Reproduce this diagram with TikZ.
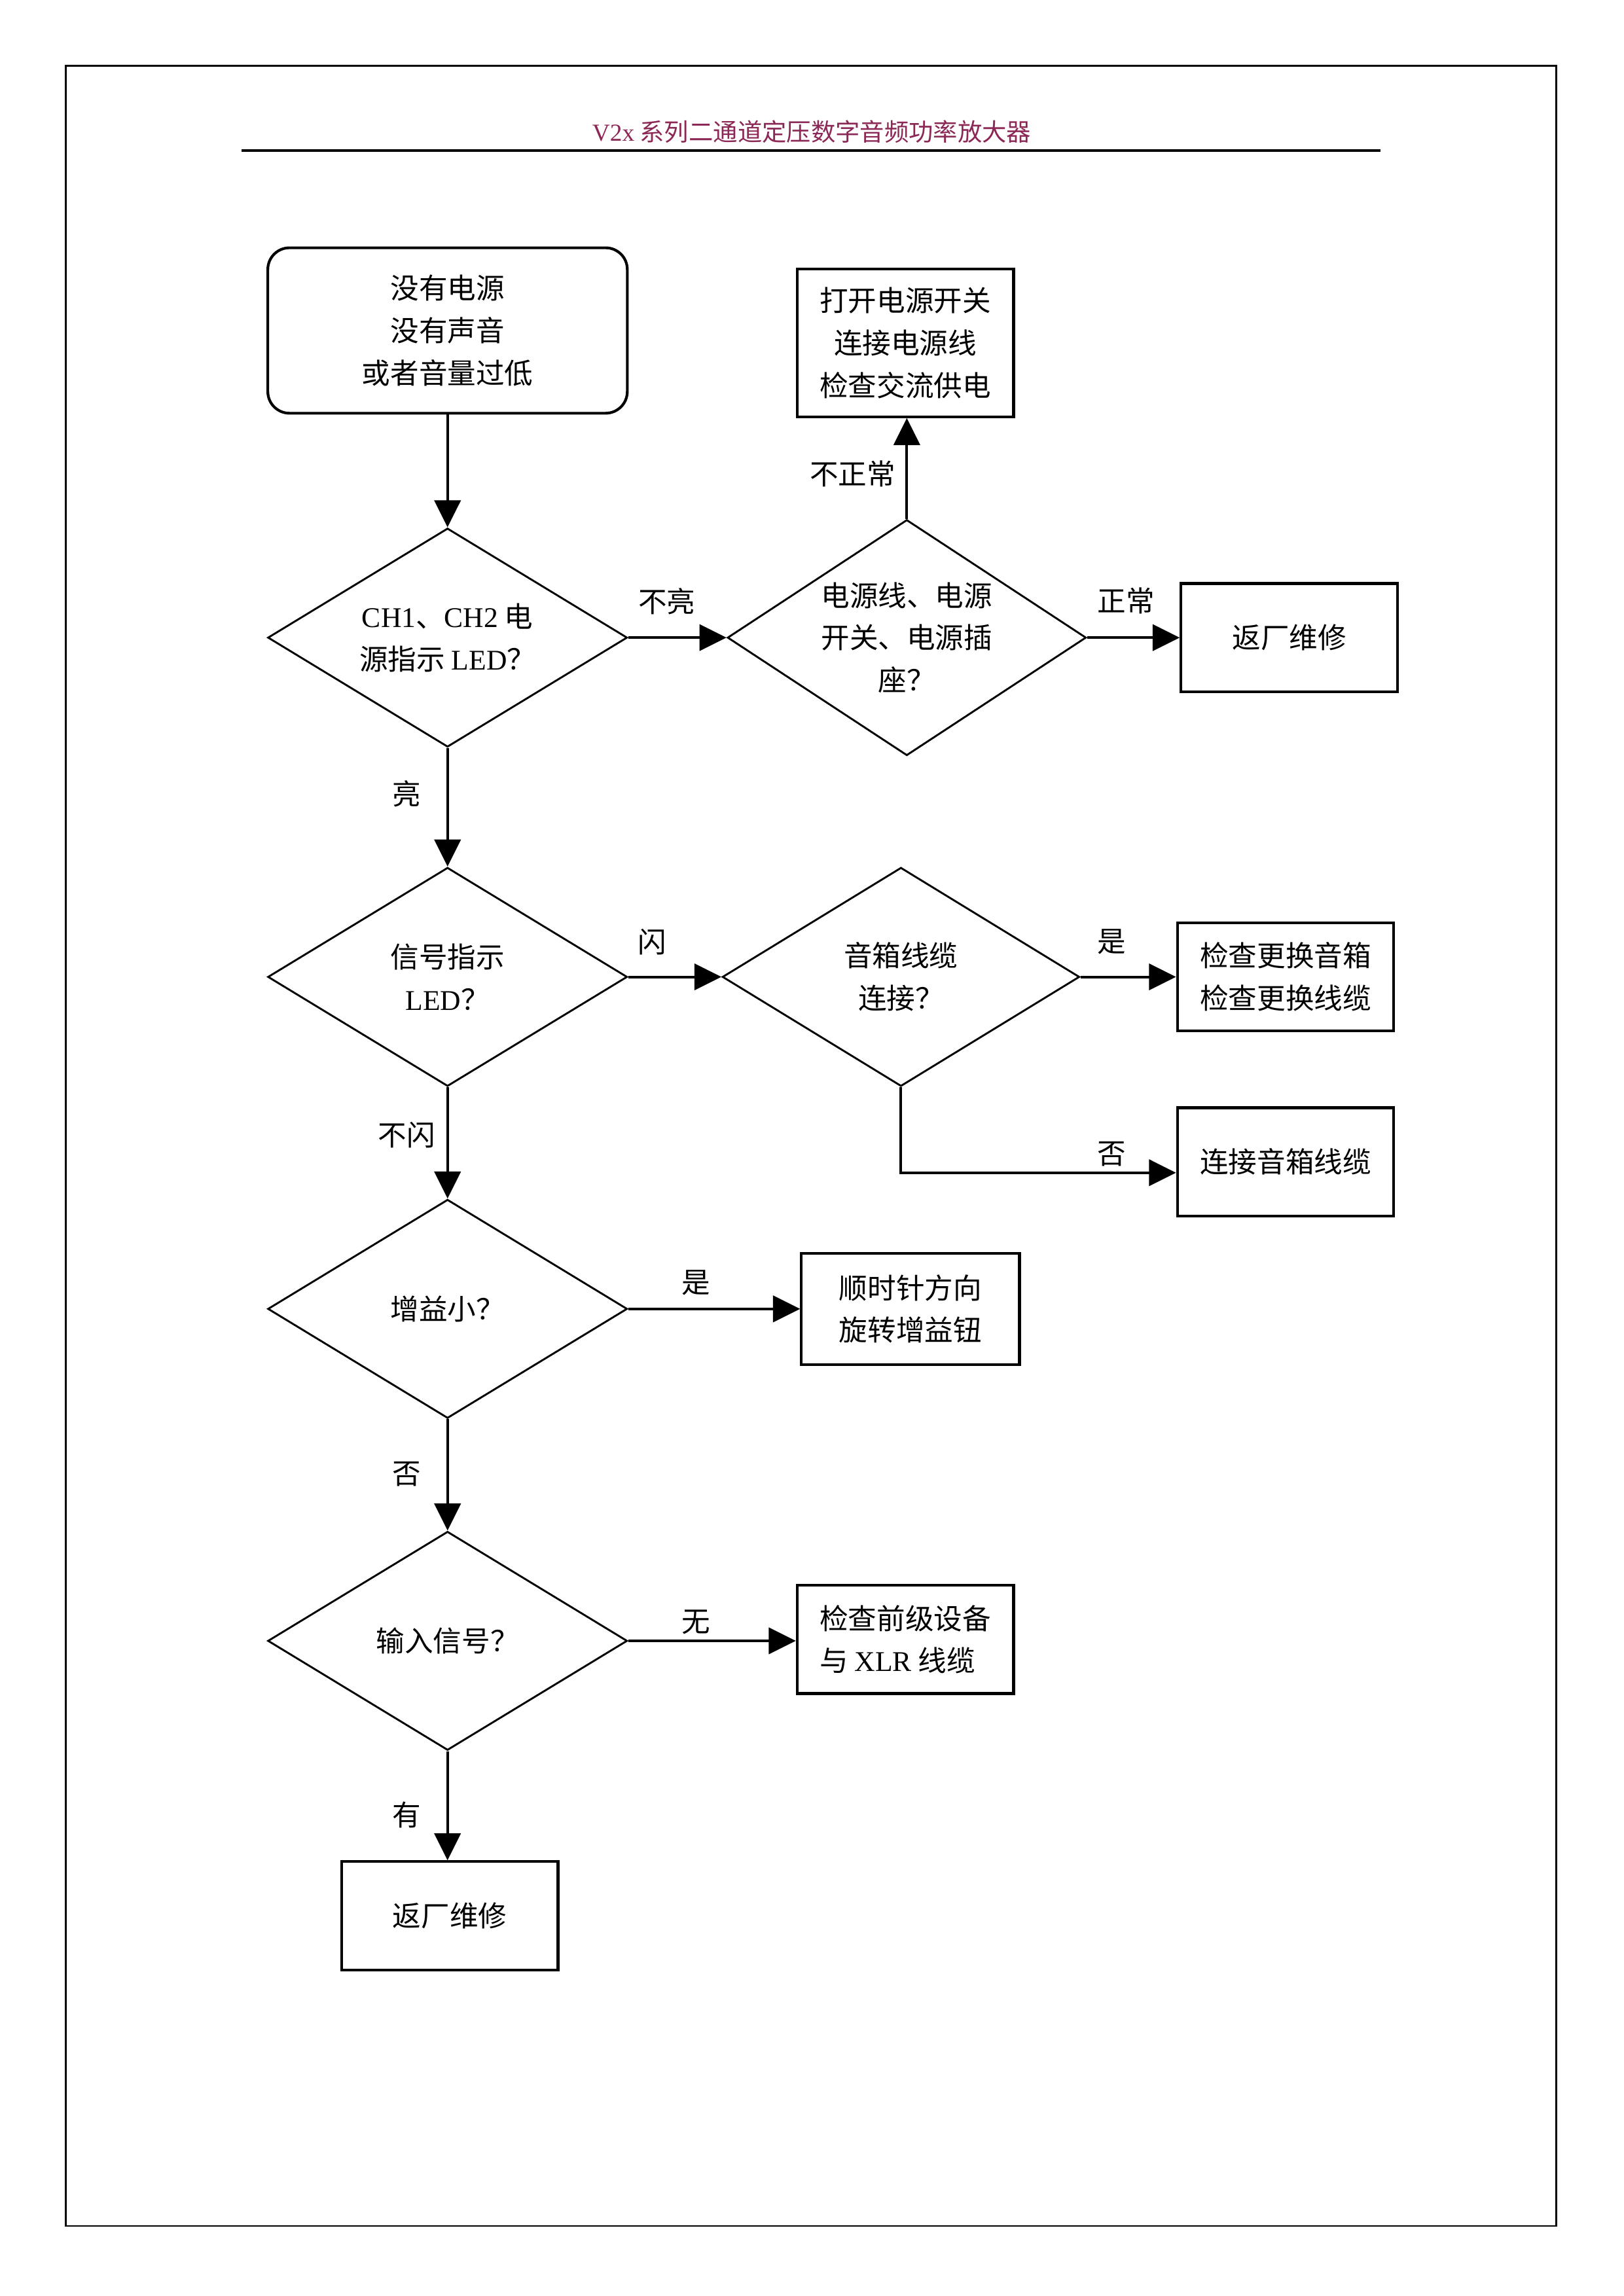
\documentclass[tikz,border=0pt]{standalone}
\usepackage{fontspec}
\setmainfont{Liberation Serif}
\newfontfamily\cjk{Noto Sans CJK SC}
\usetikzlibrary{shapes.geometric,arrows.meta}
\definecolor{titlered}{RGB}{139,40,85}

\begin{document}
\begin{tikzpicture}[x=0.18919mm, y=-0.18919mm,
	every node/.style={font=\cjk\fontsize{10.5pt}{15.6pt}\selectfont, align=center},
	box/.style={draw, line width=1pt, inner sep=0pt, minimum width=28mm, minimum height=14mm},
	decide/.style={draw, diamond, aspect=1.65, line width=0.7pt, inner sep=0pt, minimum width=46.5mm, minimum height=28.3mm},
	flow/.style={line width=1pt, -{Triangle[length=3.5mm,width=3.4mm]}}]
	\useasboundingbox (0,0) rectangle (1110,1570);
	% page frame and header
	\draw[line width=0.6pt] (45,45) rectangle (1064,1522);
	\node[font=\cjk\fontsize{9pt}{11pt}\selectfont, text=titlered] (title) at (555,90) {\textrm{V2x} 系列二通道定压数字音频功率放大器};
	\draw[line width=0.8pt] (165,103) -- (944,103);
	% start
	\node[draw, line width=1pt, rounded corners=2.8mm, minimum width=46.5mm, minimum height=21.4mm] (start) at (306,226) {没有电源\\没有声音\\或者音量过低};
	% power check
	\node[decide] (power) at (306,436) {\textrm{CH1}、\textrm{CH2} 电\\源指示 \textrm{LED}？};
	\node[decide, aspect=1.52, minimum width=46.4mm, minimum height=30.5mm] (cable) at (620,436) {电源线、电源\\开关、电源插\\座？};
	\node[box, minimum height=19.1mm] (switch) at (619,234.5) {打开电源开关\\连接电源线\\检查交流供电};
	\node[box] (repair1) at (881.5,436) {返厂维修};
	% signal check
	\node[decide] (signal) at (306,668) {信号指示\\\textrm{LED}？};
	\node[decide, minimum width=46.2mm] (spk) at (616,668) {音箱线缆\\连接？};
	\node[box] (swap) at (879,668) {检查更换音箱\\检查更换线缆};
	\node[box] (connect) at (879,794.5) {连接音箱线缆};
	% gain
	\node[decide] (gain) at (306,895) {增益小？};
	\node[box, minimum width=28.2mm, minimum height=14.4mm] (knob) at (622.5,895) {顺时针方向\\旋转增益钮};
	% input
	\node[decide] (input) at (306,1122) {输入信号？};
	\node[box, align=left] (source) at (619,1121) {检查前级设备\\与 \textrm{XLR} 线缆};
	\node[box] (repair2) at (307.5,1310) {返厂维修};
	% arrows
	\draw[flow] (start) -- (power);
	\draw[flow] (power.east) -- (cable.west);
	\draw[flow] (cable.north) -- (cable.north |- switch.south);
	\draw[flow] (cable.east) -- (repair1.west);
	\draw[flow] (power.south) -- (signal.north);
	\draw[flow] (signal.east) -- (spk.west);
	\draw[flow] (spk.east) -- (swap.west);
	\draw[flow] (spk.south) |- ([yshift=-1.4mm]connect.west);
	\draw[flow] (signal.south) -- (gain.north);
	\draw[flow] (gain.east) -- (knob.west);
	\draw[flow] (gain.south) -- (input.north);
	\draw[flow] (input.east) -- (input.east -| source.west);
	\draw[flow] (input.south) -- (input.south |- repair2.north);
	% labels
	\node (off) at (456,411) {不亮};
	\node (bad) at (583,324) {不正常};
	\node (good) at (770,411) {正常};
	\node (on) at (278,543) {亮};
	\node (blink) at (446,644) {闪};
	\node (yes1) at (760,644) {是};
	\node (no1) at (760,789) {否};
	\node (noblink) at (278,776) {不闪};
	\node (yes2) at (476,877) {是};
	\node (no2) at (278,1008) {否};
	\node (none) at (476,1109) {无};
	\node (have) at (278,1241) {有};
\end{tikzpicture}
\end{document}
